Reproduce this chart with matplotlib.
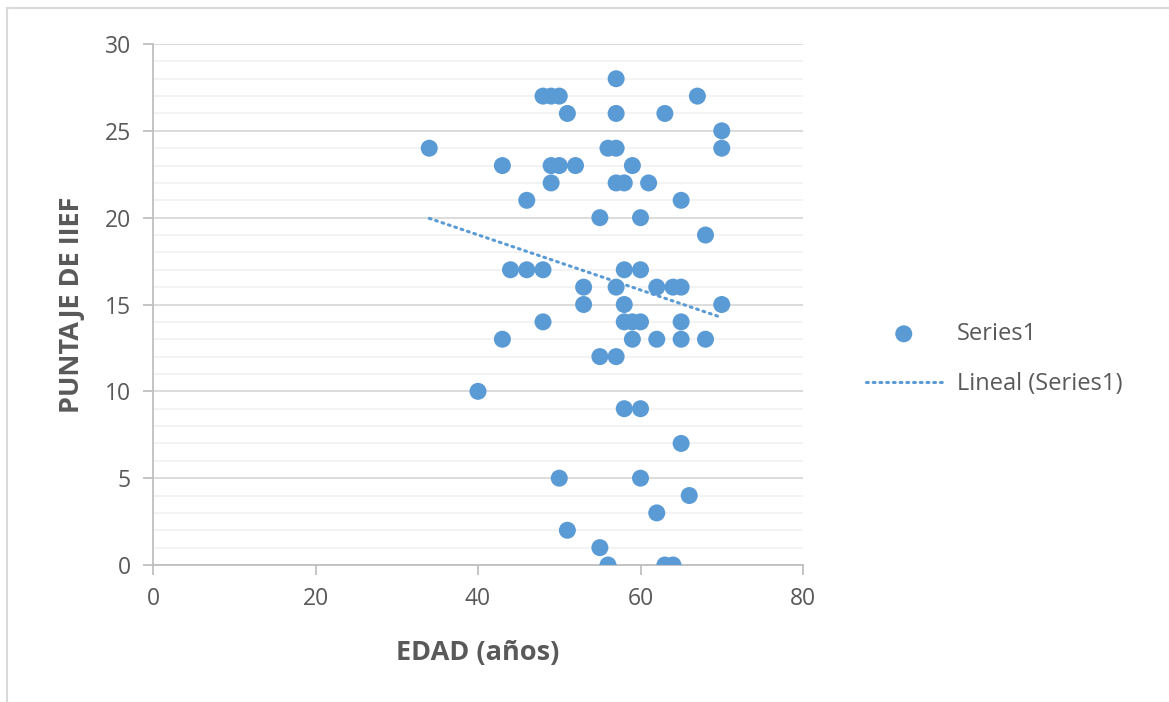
import numpy as np
import matplotlib
matplotlib.use("Agg")
import matplotlib.pyplot as plt
from matplotlib.lines import Line2D
from matplotlib.ticker import MultipleLocator

# ---- data (age in years, IIEF score) ----
edad = [34, 40, 43, 43, 44, 46, 48, 46, 48, 49, 50, 48, 49, 50, 49, 50,
        51, 51, 52, 53, 53, 55, 55, 55, 56, 56, 57, 57, 57, 57, 58, 57,
        57, 58, 58, 58, 59, 60, 59, 58, 60, 59, 60, 60, 60, 61, 62, 62,
        62, 63, 63, 64, 64, 65, 65, 65, 65, 65, 66, 67, 68, 68, 70, 70, 70]
iief = [24, 10, 23, 13, 17, 17, 17, 21, 27, 27, 27, 14, 23, 23, 22, 5,
        26, 2, 23, 16, 15, 20, 12, 1, 24, 0, 28, 26, 24, 22, 22, 16,
        12, 17, 15, 14, 14, 14, 13, 9, 9, 23, 20, 17, 5, 22, 16, 13,
        3, 26, 0, 0, 16, 16, 21, 14, 13, 7, 4, 27, 19, 13, 25, 24, 15]

blue = "#5B9BD5"
grey_txt = "#595959"
font = "Open Sans"

fig = plt.figure(figsize=(11.69, 7.02), dpi=100)
ax = fig.add_axes([153 / 1169, 1 - 565 / 702, 650 / 1169, 521 / 702])

ax.scatter(edad, iief, s=150, color=blue, edgecolors="none", zorder=3,
           label="Series1")

# linear trend (Excel "Lineal") over the data range
x = np.array(edad, dtype=float)
y = np.array(iief, dtype=float)
m, b = np.polyfit(x, y, 1)
xt = np.array([x.min(), x.max()])
ax.plot(xt, m * xt + b, color=blue, lw=2.2, linestyle=(0, (0.6, 1.6)),
        dash_capstyle="round", zorder=2, label="Lineal (Series1)")

ax.set_xlim(0, 80)
ax.set_ylim(0, 30)
ax.xaxis.set_major_locator(MultipleLocator(20))
ax.yaxis.set_major_locator(MultipleLocator(5))
ax.yaxis.set_minor_locator(MultipleLocator(1))
ax.grid(axis="y", which="major", color="#d9d9d9", lw=1.3, zorder=0)
ax.grid(axis="y", which="minor", color="#f2f2f2", lw=1.3, zorder=0)
ax.set_axisbelow(True)

for s in ("top", "right"):
    ax.spines[s].set_visible(False)
for s in ("left", "bottom"):
    ax.spines[s].set_color("#bfbfbf")
    ax.spines[s].set_linewidth(1.3)

ax.tick_params(axis="both", which="major", colors="#bfbfbf", labelcolor=grey_txt,
               labelsize=16.5, length=7, width=1.3, direction="out")
ax.tick_params(axis="y", which="minor", length=0)
ax.tick_params(axis="x", pad=9)
ax.tick_params(axis="y", pad=9)

for lab in ax.get_xticklabels() + ax.get_yticklabels():
    lab.set_fontfamily(font)

ax.set_xlabel("EDAD (años)", fontsize=19.5, fontweight="bold", color=grey_txt,
              fontfamily=font, labelpad=21)
ax.set_ylabel("PUNTAJE DE IIEF", fontsize=19.5, fontweight="bold", color=grey_txt,
              fontfamily=font, labelpad=14)

leg = fig.legend(loc="center left", bbox_to_anchor=(866 / 1169, 1 - 359 / 702),
                 frameon=False, handlelength=3.2, handletextpad=0.65,
                 labelspacing=1.1, borderpad=0, borderaxespad=0,
                 prop={"family": font, "size": 17})
for t in leg.get_texts():
    t.set_color(grey_txt)

# chart-area frame (left and top edge visible in reference)
fig.add_artist(Line2D([7 / 1169, 7 / 1169], [0, 1 - 8 / 702], color="#d9d9d9", lw=1.5))
fig.add_artist(Line2D([7 / 1169, 1], [1 - 8 / 702, 1 - 8 / 702], color="#d9d9d9", lw=1.5))

fig.savefig("out.png", dpi=100, facecolor="white")
